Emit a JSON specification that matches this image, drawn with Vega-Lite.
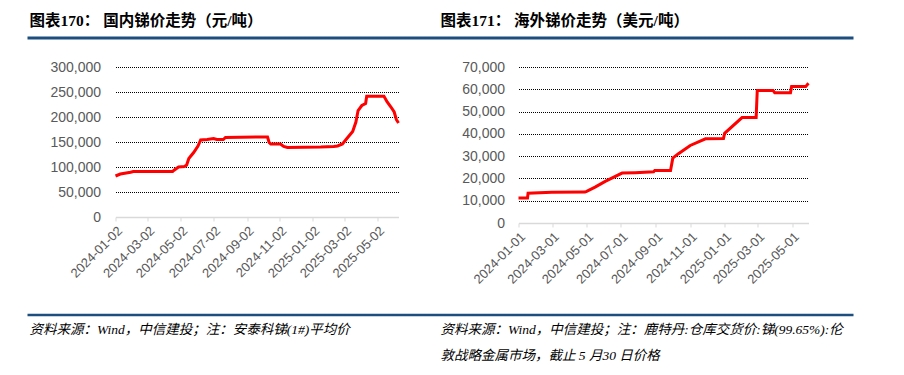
{
  "$schema": "https://vega.github.io/schema/vega-lite/v6.json",
  "background": "white",
  "padding": {"left": 25.5, "top": 14, "right": 0, "bottom": 0},
  "config": {
    "view": {"stroke": null},
    "axis": {"labelFont": "Liberation Sans", "labelColor": "#595959"}
  },
  "datasets": {
    "domestic": [
      {"date": "2024-01-02", "price": 82000},
      {"date": "2024-01-11", "price": 86000},
      {"date": "2024-01-30", "price": 89500},
      {"date": "2024-02-04", "price": 91000},
      {"date": "2024-04-17", "price": 91000},
      {"date": "2024-04-19", "price": 93000},
      {"date": "2024-04-28", "price": 100000},
      {"date": "2024-05-09", "price": 101000},
      {"date": "2024-05-13", "price": 104000},
      {"date": "2024-05-17", "price": 117000},
      {"date": "2024-05-26", "price": 129000},
      {"date": "2024-06-03", "price": 142000},
      {"date": "2024-06-08", "price": 154000},
      {"date": "2024-06-20", "price": 155000},
      {"date": "2024-06-26", "price": 156000},
      {"date": "2024-07-02", "price": 157000},
      {"date": "2024-07-08", "price": 155000},
      {"date": "2024-07-20", "price": 155000},
      {"date": "2024-07-24", "price": 159000},
      {"date": "2024-09-27", "price": 160000},
      {"date": "2024-10-10", "price": 160000},
      {"date": "2024-10-13", "price": 149000},
      {"date": "2024-10-16", "price": 146000},
      {"date": "2024-11-03", "price": 146000},
      {"date": "2024-11-09", "price": 141000},
      {"date": "2024-11-16", "price": 139000},
      {"date": "2025-01-17", "price": 140000},
      {"date": "2025-02-10", "price": 141000},
      {"date": "2025-02-17", "price": 142000},
      {"date": "2025-02-26", "price": 146000},
      {"date": "2025-03-07", "price": 158000},
      {"date": "2025-03-17", "price": 171000},
      {"date": "2025-03-23", "price": 190000},
      {"date": "2025-03-27", "price": 213000},
      {"date": "2025-04-03", "price": 223000},
      {"date": "2025-04-10", "price": 227000},
      {"date": "2025-04-12", "price": 241500},
      {"date": "2025-05-14", "price": 241500},
      {"date": "2025-05-20", "price": 230000},
      {"date": "2025-05-27", "price": 220000},
      {"date": "2025-06-02", "price": 210000},
      {"date": "2025-06-06", "price": 195000},
      {"date": "2025-06-10", "price": 188000}
    ],
    "overseas": [
      {"date": "2024-01-01", "price": 11200},
      {"date": "2024-01-17", "price": 11200},
      {"date": "2024-01-18", "price": 13400},
      {"date": "2024-02-29", "price": 13800},
      {"date": "2024-04-28", "price": 13900},
      {"date": "2024-05-01", "price": 14200},
      {"date": "2024-05-16", "price": 16100},
      {"date": "2024-06-03", "price": 18700},
      {"date": "2024-07-03", "price": 22400},
      {"date": "2024-07-26", "price": 22600},
      {"date": "2024-08-28", "price": 23000},
      {"date": "2024-08-30", "price": 23600},
      {"date": "2024-09-27", "price": 23600},
      {"date": "2024-10-01", "price": 29100},
      {"date": "2024-10-11", "price": 31100},
      {"date": "2024-11-01", "price": 34800},
      {"date": "2024-11-28", "price": 37800},
      {"date": "2024-12-30", "price": 37900},
      {"date": "2025-01-01", "price": 40200},
      {"date": "2025-02-01", "price": 47300},
      {"date": "2025-02-26", "price": 47300},
      {"date": "2025-02-28", "price": 59500},
      {"date": "2025-03-28", "price": 59500},
      {"date": "2025-03-31", "price": 58500},
      {"date": "2025-04-28", "price": 58500},
      {"date": "2025-04-30", "price": 61200},
      {"date": "2025-05-25", "price": 61200},
      {"date": "2025-05-30", "price": 62700}
    ],
    "titles": [
      {"pos": 0.0025, "label": "图表170：   国内锑价走势（元/吨）"},
      {"pos": 0.5, "label": "图表171：   海外锑价走势（美元/吨）"}
    ],
    "notes": [
      {"pos": 0.0025, "row": 0.66, "label": "资料来源：Wind，中信建投；注：安泰科锑(1#)平均价"},
      {"pos": 0.5, "row": 0.66, "label": "资料来源：Wind，中信建投；注：鹿特丹:仓库交货价:锑(99.65%):伦"},
      {"pos": 0.5, "row": 0.1, "label": "敦战略金属市场，截止 5 月30 日价格"}
    ],
    "span": [{"a": 0, "b": 1}]
  },
  "spacing": 20,
  "vconcat": [
    {
      "width": 738,
      "height": 24,
      "layer": [
        {
          "data": {"name": "titles"},
          "mark": {"type": "text", "align": "left", "baseline": "middle", "font": "Liberation Serif, Noto Sans CJK SC", "fontSize": 15.5, "fontWeight": "bold", "color": "#000000"},
          "encoding": {
            "x": {"field": "pos", "type": "quantitative", "scale": {"domain": [0.10654, 1], "nice": false, "zero": false, "clamp": false}, "axis": null},
            "y": {"datum": 0.7, "type": "quantitative", "scale": {"domain": [0, 1], "nice": false}, "axis": null},
            "text": {"field": "label"}
          }
        },
        {
          "data": {"name": "span"},
          "mark": {"type": "rule", "color": "#1c4f7f", "strokeWidth": 3},
          "encoding": {
            "x": {"field": "a", "type": "quantitative", "scale": {"domain": [0.10654, 1], "nice": false, "zero": false, "clamp": false}, "axis": null},
            "x2": {"field": "b"},
            "y": {"datum": 0, "type": "quantitative", "scale": {"domain": [0, 1], "nice": false}, "axis": null}
          }
        }
      ]
    },
    {
      "spacing": 26,
      "vconcat": [
        {
          "spacing": 54,
          "hconcat": [
            {
              "width": 283,
              "height": 150,
              "data": {"name": "domestic"},
              "mark": {"type": "line", "color": "#ff0000", "strokeWidth": 3},
              "encoding": {
                "x": {
                  "field": "date", "type": "temporal", "title": null,
                  "scale": {"type": "utc", "nice": false, "domain": [{"year": 2024, "month": 1, "date": 2, "utc": true}, {"year": 2025, "month": 6, "date": 10, "utc": true}]},
                  "axis": {
                    "values": [
                      {"year": 2024, "month": 1, "date": 2, "utc": true},
                      {"year": 2024, "month": 3, "date": 2, "utc": true},
                      {"year": 2024, "month": 5, "date": 2, "utc": true},
                      {"year": 2024, "month": 7, "date": 2, "utc": true},
                      {"year": 2024, "month": 9, "date": 2, "utc": true},
                      {"year": 2024, "month": 11, "date": 2, "utc": true},
                      {"year": 2025, "month": 1, "date": 2, "utc": true},
                      {"year": 2025, "month": 3, "date": 2, "utc": true},
                      {"year": 2025, "month": 5, "date": 2, "utc": true}
                    ],
                    "format": "%Y-%m-%d", "labelAngle": -45, "labelFontSize": 13, "labelPadding": 3,
                    "labelOverlap": false, "labelFlush": false, "grid": false,
                    "domainColor": "#d9d9d9", "domainWidth": 1.5, "tickColor": "#d9d9d9", "tickSize": 4, "tickWidth": 1
                  }
                },
                "y": {
                  "field": "price", "type": "quantitative", "title": null,
                  "scale": {"domain": [0, 300000], "nice": false},
                  "axis": {
                    "values": [0, 50000, 100000, 150000, 200000, 250000, 300000],
                    "format": ",.0f", "labelFontSize": 14, "labelPadding": 15, "minExtent": 88,
                    "domain": false, "ticks": false, "grid": true,
                    "gridColor": {"condition": {"test": "datum.value === 0", "value": "transparent"}, "value": "#000000"},
                    "gridDash": [1, 1], "gridWidth": 1
                  }
                }
              }
            },
            {
              "width": 290,
              "height": 156,
              "data": {"name": "overseas"},
              "mark": {"type": "line", "color": "#ff0000", "strokeWidth": 3},
              "encoding": {
                "x": {
                  "field": "date", "type": "temporal", "title": null,
                  "scale": {"type": "utc", "nice": false, "domain": [{"year": 2024, "month": 1, "date": 1, "utc": true}, {"year": 2025, "month": 5, "date": 30, "utc": true}]},
                  "axis": {
                    "values": [
                      {"year": 2024, "month": 1, "date": 1, "utc": true},
                      {"year": 2024, "month": 3, "date": 1, "utc": true},
                      {"year": 2024, "month": 5, "date": 1, "utc": true},
                      {"year": 2024, "month": 7, "date": 1, "utc": true},
                      {"year": 2024, "month": 9, "date": 1, "utc": true},
                      {"year": 2024, "month": 11, "date": 1, "utc": true},
                      {"year": 2025, "month": 1, "date": 1, "utc": true},
                      {"year": 2025, "month": 3, "date": 1, "utc": true},
                      {"year": 2025, "month": 5, "date": 1, "utc": true}
                    ],
                    "format": "%Y-%m-%d", "labelAngle": -45, "labelFontSize": 13, "labelPadding": 3,
                    "labelOverlap": false, "labelFlush": false, "grid": false,
                    "domainColor": "#d9d9d9", "domainWidth": 1.5, "tickColor": "#d9d9d9", "tickSize": 4, "tickWidth": 1
                  }
                },
                "y": {
                  "field": "price", "type": "quantitative", "title": null,
                  "scale": {"domain": [0, 70000], "nice": false},
                  "axis": {
                    "values": [0, 10000, 20000, 30000, 40000, 50000, 60000, 70000],
                    "format": ",.0f", "labelFontSize": 14, "labelPadding": 14, "minExtent": 60,
                    "domain": false, "ticks": false, "grid": true,
                    "gridColor": {"condition": {"test": "datum.value === 0", "value": "transparent"}, "value": "#000000"},
                    "gridDash": [1, 1], "gridWidth": 1
                  }
                }
              }
            }
          ]
        },
        {
          "width": 738,
          "height": 45,
          "layer": [
            {
              "data": {"name": "span"},
              "mark": {"type": "rule", "color": "#1c4f7f", "strokeWidth": 2.5},
              "encoding": {
                "x": {"field": "a", "type": "quantitative", "scale": {"domain": [0.10654, 1], "nice": false, "zero": false, "clamp": false}, "axis": null},
                "x2": {"field": "b"},
                "y": {"datum": 1, "type": "quantitative", "scale": {"domain": [0, 1], "nice": false}, "axis": null}
              }
            },
            {
              "data": {"name": "notes"},
              "mark": {"type": "text", "align": "left", "baseline": "middle", "font": "Liberation Serif, Noto Sans CJK SC", "fontSize": 13.5, "fontStyle": "italic", "color": "#000000"},
              "encoding": {
                "x": {"field": "pos", "type": "quantitative", "scale": {"domain": [0.10654, 1], "nice": false, "zero": false, "clamp": false}, "axis": null},
                "y": {"field": "row", "type": "quantitative", "scale": {"domain": [0, 1], "nice": false}, "axis": null},
                "text": {"field": "label"}
              }
            }
          ]
        }
      ]
    }
  ]
}
